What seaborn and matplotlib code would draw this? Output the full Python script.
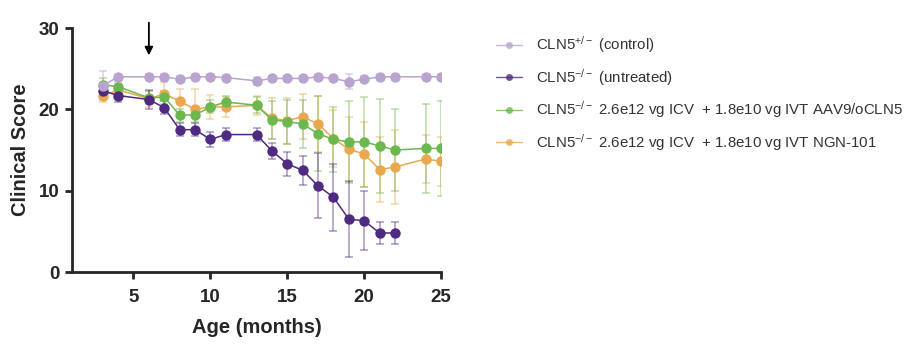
import numpy as np
import pandas as pd
import matplotlib

matplotlib.use("Agg")
import matplotlib.pyplot as plt
import seaborn as sns

# ages (months) at which scores were taken
months = [3, 4, 6, 7, 8, 9, 10, 11, 13, 14, 15, 16, 17, 18, 19, 20, 21, 22, 24, 25]
months_untreated = [3, 4, 6, 7, 8, 9, 10, 11, 13, 14, 15, 16, 17, 18, 19, 20, 21, 22]

control = [22.9, 24.0, 24.0, 24.0, 23.7, 24.0, 24.0, 23.9, 23.5, 23.8, 23.8, 23.8,
           24.0, 23.8, 23.4, 23.7, 24.0, 24.0, 24.0, 24.0]
control_err = [1.8, 0.3, 0.3, 0.3, 0.4, 0.3, 0.3, 0.3, 0.5, 0.3, 0.3, 0.3,
               0.3, 0.3, 0.9, 0.4, 0.3, 0.3, 0.3, 0.3]

untreated = [22.3, 21.7, 21.2, 20.2, 17.5, 17.5, 16.3, 16.9, 16.9, 14.9, 13.3, 12.5,
             10.6, 9.2, 6.5, 6.3, 4.8, 4.8]
untreated_err = [0.8, 0.8, 1.2, 0.8, 0.8, 0.8, 0.9, 0.8, 0.8, 1.0, 1.5, 1.8,
                 4.0, 4.1, 4.7, 3.6, 1.4, 1.4]

aav9 = [23.0, 22.8, 21.4, 21.5, 19.3, 19.3, 20.3, 20.9, 20.5, 18.7, 18.5, 18.2,
        17.0, 16.3, 16.0, 16.0, 15.5, 15.0, 15.2, 15.2]
aav9_err = [0.8, 0.7, 0.8, 0.8, 0.8, 0.8, 0.8, 0.7, 1.0, 2.3, 2.7, 3.0,
            4.6, 4.0, 5.0, 5.5, 5.8, 5.0, 5.5, 5.8]

ngn101 = [21.6, 22.4, 21.3, 21.9, 21.0, 20.0, 20.3, 20.3, 20.5, 18.9, 18.6, 19.1,
          18.2, 16.4, 15.1, 14.5, 12.6, 12.9, 13.9, 13.6]
ngn101_err = [0.7, 0.8, 1.0, 1.5, 1.5, 2.5, 1.5, 1.2, 1.2, 2.5, 2.8, 2.8,
              3.5, 3.5, 4.0, 4.0, 4.0, 4.5, 3.0, 3.0]

labels = [
    r"CLN5$^{+/-}$ (control)",
    r"CLN5$^{-/-}$ (untreated)",
    r"CLN5$^{-/-}$ 2.6e12 vg ICV  + 1.8e10 vg IVT AAV9/oCLN5",
    r"CLN5$^{-/-}$ 2.6e12 vg ICV  + 1.8e10 vg IVT NGN-101",
]
colors = ["#b9a3cf", "#4e2a80", "#6cb84e", "#eaa84e"]

frames = []
for lab, xs, ys, es in zip(
    labels,
    [months, months_untreated, months, months],
    [control, untreated, aav9, ngn101],
    [control_err, untreated_err, aav9_err, ngn101_err],
):
    frames.append(pd.DataFrame({"Age": xs, "Score": ys, "err": es, "group": lab}))
df = pd.concat(frames, ignore_index=True)

sns.set_theme(style="ticks")
plt.rcParams["font.family"] = ["Liberation Sans", "DejaVu Sans"]
plt.rcParams["mathtext.default"] = "regular"

fig = plt.figure(figsize=(9.17, 3.54), dpi=100)
ax = fig.add_axes([0.0785, 0.2316, 0.4025, 0.6893])

# drawing order: NGN-101 at the bottom, control on top
order = [labels[3], labels[2], labels[1], labels[0]]
pal = {lab: colors[labels.index(lab)] for lab in labels}

# error bars first, lighter than the lines
for lab in order:
    sub = df[df["group"] == lab]
    ax.errorbar(sub["Age"], sub["Score"], yerr=sub["err"], fmt="none",
                ecolor=pal[lab], alpha=0.45, elinewidth=1.2, capsize=3,
                capthick=1.2, zorder=1)

sns.lineplot(data=df, x="Age", y="Score", hue="group", hue_order=order,
             palette=pal, marker="o", markersize=7.5, markeredgewidth=0,
             linewidth=1.1, ax=ax, legend=False, errorbar=None, sort=True,
             zorder=3)

ax.set_xlim(1, 25)
ax.set_ylim(0, 30)
ax.set_xticks([5, 10, 15, 20, 25])
ax.set_yticks([0, 10, 20, 30])
ax.tick_params(axis="both", width=2, length=5, labelsize=13.5, pad=4)
ax.tick_params(axis="x", pad=7)
for t in ax.get_xticklabels() + ax.get_yticklabels():
    t.set_fontweight("bold")
for s in ["left", "bottom"]:
    ax.spines[s].set_linewidth(2)
sns.despine(ax=ax)

ax.set_xlabel("Age (months)", fontsize=14.5, fontweight="bold", labelpad=9)
ax.set_ylabel("Clinical Score", fontsize=14.5, fontweight="bold", labelpad=6)

# treatment arrow
ax.annotate("", xy=(6, 26.3), xytext=(6, 31.0),
            arrowprops=dict(arrowstyle="-|>", color="black", lw=1.3,
                            mutation_scale=12),
            annotation_clip=False)

handles = [
    plt.Line2D([], [], color=c, marker="o", markersize=5, linewidth=1,
               markeredgewidth=0, alpha=0.8)
    for c in colors
]
leg = fig.legend(handles, labels, loc="upper left",
                 bbox_to_anchor=(0.541, 0.903), frameon=False, fontsize=10.8,
                 labelspacing=0.78, handlelength=1.75, handletextpad=0.9,
                 borderpad=0, borderaxespad=0)
for t in leg.get_texts():
    t.set_color("#333333")

fig.savefig("out.png", dpi=100)
